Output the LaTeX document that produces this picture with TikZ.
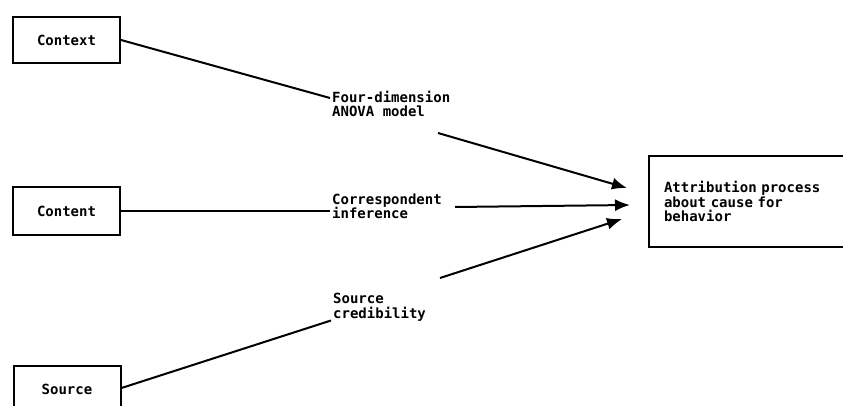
\documentclass[tikz,border=0pt]{standalone}
\usepackage{fontspec}
\setmonofont{DejaVu Sans Mono}
\usetikzlibrary{arrows.meta,positioning,calc}
\begin{document}
\begin{tikzpicture}[x=1pt,y=-1pt,
  every node/.style={font=\ttfamily\bfseries\fontsize{14}{14.5}\selectfont},
  box/.style={draw,line width=2pt,minimum width=107pt,inner sep=0pt},
  lbl/.style={anchor=west,align=left,inner sep=2pt},
  conn/.style={line width=2pt},
  arr/.style={line width=2pt,-{Latex[length=15pt,width=12pt]}}]
\useasboundingbox (0,0) rectangle (843,406);
\clip (0,0) rectangle (843,406);
\fill[white] (0,0) rectangle (843,406);
% left boxes
\node[box,minimum height=46pt] (ctx) at (66.5,40) {Context};
\node[box,minimum height=47pt] (cnt) at (66.5,211) {Content};
\node[box,anchor=north,text height=28pt,text depth=16pt] (src) at (67,365) {Source};
% right box
\node[box,anchor=north west,minimum width=260pt,minimum height=91pt,
      align=left,inner xsep=15pt,text width=230pt] (attr) at (648,155)
      {Attribution process\\about cause for\\behavior};
% labels
\node[lbl] (l1) at (330,104) {Four-dimension\\ANOVA model};
\node[lbl] (l2) at (330,206.5) {Correspondent\\inference};
\node[lbl] (l3) at (331,307.5) {Source\\credibility};
% arrow start and end points
\coordinate (s1) at (438,133);
\coordinate (s2) at (455,207);
\coordinate (s3) at (440,278);
\coordinate (t1) at (627,188);
\coordinate (t2) at (630,205);
\coordinate (t3) at (622,219);
% connectors
\draw[conn] (ctx.east) -- ([yshift=6pt]l1.west);
\draw[conn] (cnt.east) -- (cnt.east -| l2.west);
\draw[conn] (src.east) -- ([yshift=-13pt]l3.west);
\draw[arr] (s1) -- (t1);
\draw[arr] (s2) -- (t2);
\draw[arr] (s3) -- (t3);
\end{tikzpicture}
\end{document}
